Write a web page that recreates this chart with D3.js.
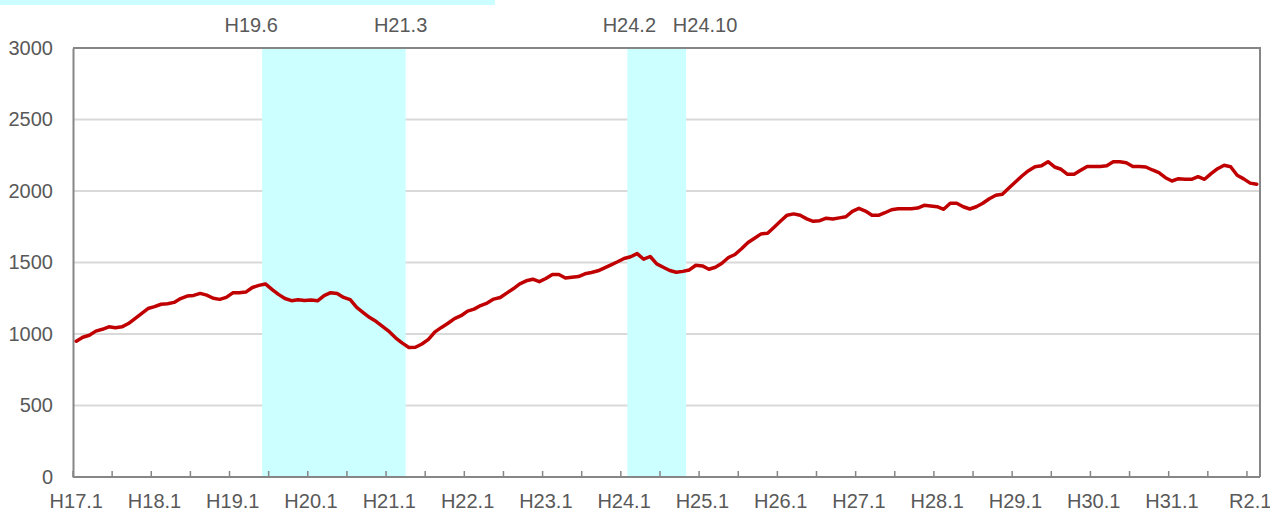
<!DOCTYPE html>
<html>
<head>
<meta charset="utf-8">
<script src="https://cdn.jsdelivr.net/npm/d3@7"></script>
<style>
  body { margin: 0; background: #fff; }
  text { font-family: "Liberation Sans", Arial, sans-serif; fill: #595959; }
</style>
</head>
<body>
<div id="chart"></div>
<script>
// era label of each calendar year, H17 (2005) .. R2 (2020)
const eraYears = [
  'H17', 'H18', 'H19', 'H20', 'H21', 'H22', 'H23', 'H24',
  'H25', 'H26', 'H27', 'H28', 'H29', 'H30', 'H31', 'R2'
];

// monthly index, H17.1 .. R2.2
const values = [
  950, 977, 991, 1020, 1033, 1050, 1044, 1050, 1073, 1108, 1143, 1178,
  1191, 1208, 1212, 1221, 1248, 1265, 1270, 1284, 1272, 1250, 1242, 1256,
  1288, 1289, 1293, 1325, 1340, 1350, 1312, 1277, 1248, 1233, 1240, 1234,
  1238, 1232, 1268, 1289, 1284, 1256, 1240, 1186, 1150, 1115, 1087, 1052,
  1016, 972, 936, 906, 907, 930, 962, 1015, 1046, 1075, 1108, 1128,
  1160, 1174, 1199, 1216, 1244, 1255, 1286, 1316, 1351, 1372, 1383, 1366,
  1388, 1416, 1416, 1392, 1397, 1402, 1421, 1430, 1442, 1463, 1484, 1505,
  1528, 1540, 1562, 1523, 1542, 1490, 1467, 1444, 1432, 1438, 1448, 1481,
  1476, 1453, 1467, 1495, 1535, 1556, 1596, 1640, 1670, 1700, 1705, 1747,
  1790, 1831, 1840, 1830, 1805, 1788, 1792, 1810, 1804, 1812, 1820, 1858,
  1879, 1860, 1830, 1830, 1848, 1869, 1876, 1876, 1876, 1881, 1900, 1895,
  1890, 1872, 1914, 1914, 1890, 1874, 1890, 1914, 1946, 1970, 1977, 2021,
  2063, 2105, 2142, 2170, 2176, 2205, 2168, 2152, 2117, 2117, 2145, 2172,
  2172, 2172, 2177, 2205, 2205, 2198, 2172, 2172, 2168, 2147, 2128, 2093,
  2070, 2086, 2082, 2082, 2100, 2082, 2121, 2156, 2180, 2170, 2110, 2085,
  2055, 2047
];

const tickLabels = [
  'H17.1', 'H18.1', 'H19.1', 'H20.1', 'H21.1', 'H22.1', 'H23.1', 'H24.1',
  'H25.1', 'H26.1', 'H27.1', 'H28.1', 'H29.1', 'H30.1', 'H31.1', 'R2.1'
];
const yTicks = [0, 500, 1000, 1500, 2000, 2500, 3000];

// shaded periods
const bands = [
  { from: 'H19.6', to: 'H21.3' },
  { from: 'H24.2', to: 'H24.10' }
];

// month categories built from the era years
const months = [];
eraYears.forEach((y) => {
  for (let m = 1; m <= 12; m++) months.push(y + '.' + m);
});
const categories = months.slice(0, values.length);
const data = categories.map((c, i) => ({ month: c, value: values[i] }));

///////// Layout //////////
const width = 1270;
const height = 515;
const margin = { top: 48, right: 10, bottom: 38, left: 73 };
const innerW = width - margin.left - margin.right;
const innerH = height - margin.top - margin.bottom;

const svg = d3.select('#chart')
  .append('svg')
  .attr('width', width)
  .attr('height', height);

// cut-off legend strip at the very top
svg.append('rect')
  .attr('x', 0).attr('y', 0)
  .attr('width', 495).attr('height', 5)
  .attr('fill', '#ccffff');

const group = svg.append('g')
  .attr('transform', 'translate(' + margin.left + ',' + margin.top + ')');

const xScale = d3.scaleBand().domain(categories).range([0, innerW]).padding(0);
const yScale = d3.scaleLinear().domain([0, 3000]).range([innerH, 0]);
const bw = xScale.bandwidth();

// gridlines
group.append('g')
  .selectAll('line')
  .data(yTicks.filter((t) => t > 0 && t < 3000))
  .join('line')
  .attr('x1', 0).attr('x2', innerW)
  .attr('y1', (d) => yScale(d)).attr('y2', (d) => yScale(d))
  .attr('stroke', '#d9d9d9')
  .attr('stroke-width', 2);

// shaded periods
group.append('g')
  .selectAll('rect')
  .data(bands)
  .join('rect')
  .attr('x', (d) => xScale(d.from))
  .attr('width', (d) => xScale(d.to) + bw - xScale(d.from))
  .attr('y', 1)
  .attr('height', innerH - 1)
  .attr('fill', '#ccffff');

// band labels above the plot (hand placed in the original)
const bandLabelOffsets = [-11, -5, 2, 19];
const bandLabels = [];
bands.forEach((b, i) => {
  ['from', 'to'].forEach((k, j) => {
    const x = k === 'from' ? xScale(b[k]) : xScale(b[k]) + bw;
    bandLabels.push({ text: b[k], x: x + bandLabelOffsets[i * 2 + j] });
  });
});
group.append('g')
  .selectAll('text')
  .data(bandLabels)
  .join('text')
  .attr('x', (d) => d.x)
  .attr('y', -16)
  .attr('text-anchor', 'middle')
  .attr('font-size', 20)
  .text((d) => d.text);

// plot frame (top and right)
group.append('path')
  .attr('d', 'M0,0H' + innerW + 'V' + innerH)
  .attr('fill', 'none')
  .attr('stroke', '#868686')
  .attr('stroke-width', 2);

// y axis labels
const yAxis = d3.axisLeft(yScale)
  .tickValues(yTicks)
  .tickFormat(d3.format('d'))
  .tickSize(0)
  .tickPadding(20);
const yAxisGroup = group.append('g').attr('class', 'y-axis').call(yAxis);
yAxisGroup.select('.domain').attr('stroke', '#868686').attr('stroke-width', 2);
yAxisGroup.selectAll('text')
  .attr('font-size', 20)
  .attr('font-family', '"Liberation Sans", Arial, sans-serif')
  .attr('fill', '#595959');

// x axis: tick marks every 6 months, labels every 12 months
const tickMonths = categories.filter((c, i) => i % 6 === 0);
const xAxisGroup = group.append('g')
  .attr('transform', 'translate(0,' + innerH + ')');
xAxisGroup.append('g')
  .selectAll('line')
  .data(tickMonths)
  .join('line')
  .attr('x1', (d) => xScale(d)).attr('x2', (d) => xScale(d))
  .attr('y1', 0).attr('y2', -6)
  .attr('stroke', '#868686')
  .attr('stroke-width', 1.5);
xAxisGroup.append('line')
  .attr('x1', 0).attr('x2', innerW)
  .attr('stroke', '#868686')
  .attr('stroke-width', 2);
xAxisGroup.append('g')
  .selectAll('text')
  .data(tickLabels)
  .join('text')
  .attr('x', (d) => xScale(d) + bw / 2)
  .attr('y', 31)
  .attr('text-anchor', 'middle')
  .attr('font-size', 20)
  .text((d) => d);

// the series line
const line = d3.line()
  .x((d) => xScale(d.month) + bw / 2)
  .y((d) => yScale(d.value));

group.append('path')
  .datum(data)
  .attr('fill', 'none')
  .attr('stroke', '#c00000')
  .attr('stroke-width', 3.5)
  .attr('stroke-linejoin', 'round')
  .attr('stroke-linecap', 'round')
  .attr('d', line);
</script>
</body>
</html>
